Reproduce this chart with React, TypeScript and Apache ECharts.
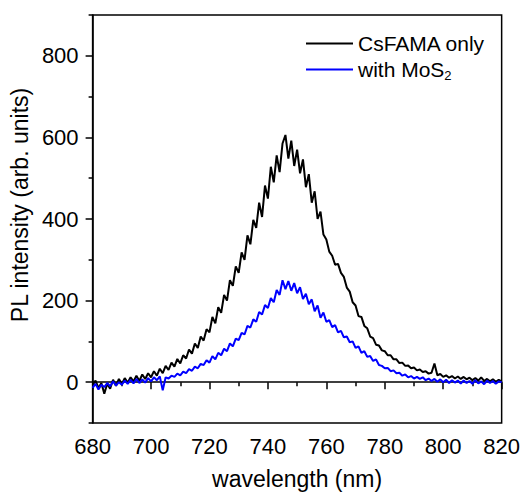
import React, { useEffect, useRef } from "react";
import * as echarts from "echarts";

const wavelengths: number[] = Array.from({ length: 141 }, (_, i) => 680 + i);

const csfamaOnly: number[] = [
  -8, 4, -14, -2, -28, -4, -16, 6, -9, 8,
  -4, 10, -1, 12, 2, 16, 3, 19, 8, 22,
  12, 27, 16, 33, 22, 40, 30, 48, 38, 57,
  46, 66, 58, 80, 70, 95, 84, 112, 102, 130,
  122, 160, 144, 184, 170, 214, 200, 250, 236, 284,
  268, 318, 300, 360, 338, 398, 378, 440, 405, 482,
  450, 528, 490, 556, 515, 585, 606, 548, 592, 530,
  570, 512, 546, 478, 510, 440, 468, 400, 418, 362,
  350, 320, 310, 288, 290, 268, 258, 232, 222, 196,
  188, 162, 160, 138, 132, 112, 108, 92, 90, 78,
  76, 66, 66, 56, 56, 47, 48, 40, 41, 34,
  36, 29, 31, 25, 27, 21, 23, 46, 17, 20,
  13, 17, 11, 15, 9, 14, 8, 13, 7, 11,
  5, 10, 4, 12, 3, 8, 2, 7, 1, 6,
  2,
];

const withMoS2: number[] = [
  -14, -4, -18, -6, -12, -2, -10, 2, -8, 0,
  -6, 4, -4, 6, -3, 8, -2, 7, -1, 10,
  2, 12, 5, 14, -20, 12, 9, 16, 13, 21,
  17, 26, 22, 32, 28, 38, 34, 45, 42, 54,
  48, 64, 56, 72, 66, 82, 76, 95, 88, 107,
  103, 121, 117, 138, 134, 154, 148, 172, 166, 189,
  182, 206, 196, 226, 214, 250, 228, 248, 224, 243,
  218, 233, 204, 217, 191, 203, 174, 188, 158, 171,
  148, 152, 135, 140, 122, 126, 110, 112, 98, 100,
  84, 88, 72, 76, 62, 64, 52, 56, 42, 40,
  34, 35, 27, 29, 22, 23, 16, 19, 12, 15,
  9, 13, 8, 12, 5, 9, 3, 8, 1, 7,
  0, 6, -2, 5, -1, 4, -3, 4, -2, 3,
  -4, 5, -3, 2, -5, 4, -2, 3, -4, 2,
  0,
];

const seriesNames = ["CsFAMA only", "with MoS2"];
const seriesColors = ["#000000", "#0000ff"];
const xTitle = "wavelength (nm)";
const yTitle = "PL intensity (arb. units)";

const FONT = "'Liberation Sans', Arial, Helvetica, sans-serif";

export default function App() {
  const ref = useRef<HTMLDivElement>(null);
  useEffect(() => {
    if (!ref.current) return;
    const chart = echarts.init(ref.current, undefined, { renderer: "svg" });
    const seriesData = [csfamaOnly, withMoS2];
    chart.setOption({
      animation: false,
      backgroundColor: "#ffffff",
      grid: {
        left: 92,
        right: 21,
        top: 15,
        bottom: 71,
        show: true,
        borderColor: "#000",
        borderWidth: 1.5,
        backgroundColor: "transparent",
      },
      legend: {
        orient: "vertical",
        left: 301,
        top: 28,
        itemWidth: 47,
        itemHeight: 14,
        itemGap: 5,
        icon: "path://M0,6 L47,6 L47,8 L0,8 Z",
        data: seriesNames.map((n, i) => ({ name: n, itemStyle: { color: seriesColors[i] } })),
        formatter: (name: string) => (name === "with MoS2" ? "with MoS{sub|2}" : name),
        textStyle: {
          fontFamily: FONT,
          fontSize: 21,
          color: "#000",
          rich: {
            sub: { fontFamily: FONT, fontSize: 13, color: "#000", padding: [12, 0, 0, 0] },
          },
        },
      },
      xAxis: {
        type: "value",
        min: 680,
        max: 820,
        interval: 20,
        name: xTitle,
        nameLocation: "middle",
        nameGap: 44,
        nameTextStyle: { fontFamily: FONT, fontSize: 23, color: "#000" },
        axisLine: { show: true, lineStyle: { color: "#000", width: 1.5 } },
        axisTick: { show: true, inside: false, length: 7, lineStyle: { color: "#000", width: 1.5 } },
        minorTick: { show: true, splitNumber: 2, length: 4, lineStyle: { color: "#000", width: 1.5 } },
        axisLabel: { fontFamily: FONT, fontSize: 22, color: "#000", margin: 12 },
        splitLine: { show: false },
      },
      yAxis: [
        {
          type: "value",
          min: -100,
          max: 900,
          splitNumber: 5,
          name: yTitle,
          nameLocation: "middle",
          nameGap: 57,
          nameTextStyle: { fontFamily: FONT, fontSize: 23, color: "#000", padding: [0, 0, 0, 28] },
          axisLine: { show: true, lineStyle: { color: "#000", width: 1.5 } },
          axisTick: { show: true, inside: false, length: 7, lineStyle: { color: "#000", width: 1.5 } },
          axisLabel: {
            fontFamily: FONT,
            fontSize: 22,
            color: "#000",
            margin: 14,
            showMinLabel: false,
            showMaxLabel: false,
            formatter: (v: number) => (v >= 0 && v <= 800 && v % 200 === 0 ? String(v) : ""),
          },
          splitLine: { show: false },
        },
        {
          type: "value",
          position: "left",
          min: -100,
          max: 900,
          interval: 200,
          axisLine: { show: false },
          axisTick: { show: true, inside: false, length: 4, lineStyle: { color: "#000", width: 1.5 } },
          axisLabel: { show: false },
          splitLine: { show: false },
        },
      ],
      series: seriesNames.map((n, i) => ({
        name: n,
        type: "line",
        yAxisIndex: 0,
        showSymbol: false,
        symbol: "none",
        data: wavelengths.map((w, k) => [w, seriesData[i][k]]),
        lineStyle: { color: seriesColors[i], width: 2 },
        itemStyle: { color: seriesColors[i] },
      })),
    });
    return () => chart.dispose();
  }, []);
  return (
    <div
      ref={ref}
      style={{ position: "fixed", left: 0, top: 0, width: 523, height: 495, background: "#fff" }}
    />
  );
}
